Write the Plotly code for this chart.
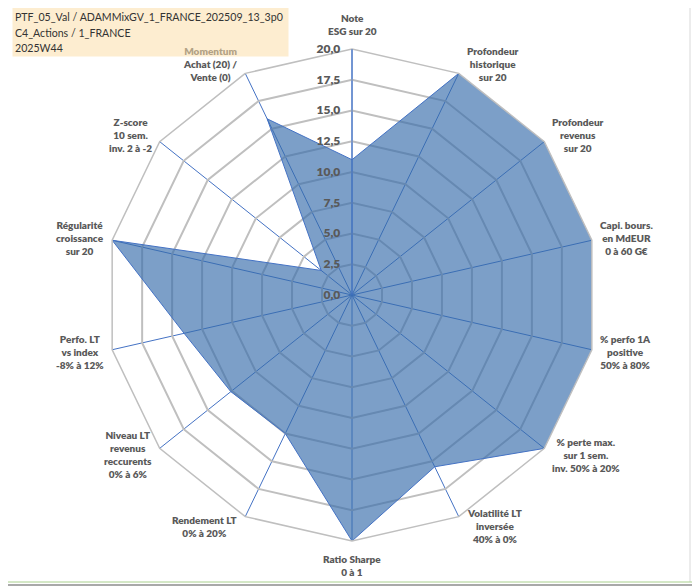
import math
import plotly.graph_objects as go

# ---- data ----
categories = [
    "Note<br>ESG sur 20",
    "Profondeur<br>historique<br>sur 20",
    "Profondeur<br>revenus<br>sur 20",
    "Capi. bours.<br>en MdEUR<br>0 à 60 G€",
    "% perfo 1A<br>positive<br>50% à 80%",
    "% perte max.<br>sur 1 sem.<br>inv. 50% à 20%",
    "Volatilité LT<br>inversée<br>40% à 0%",
    "Ratio Sharpe<br>0 à 1",
    "Rendement LT<br>0% à 20%",
    "Niveau LT<br>revenus<br>reccurents<br>0% à 6%",
    "Perfo. LT<br>vs index<br>-8% à 12%",
    "Régularité<br>croissance<br>sur 20",
    "Z-score<br>10 sem.<br>inv. 2 à -2",
    "Momentum<br>Achat (20) /<br>Vente (0)",
]
values = [11.0, 20.0, 20.0, 20.0, 20.0, 20.0, 15.5, 20.0, 12.5, 12.6, 14.0, 20.0, 3.2, 15.9]
radial_ticks = [0, 2.5, 5, 7.5, 10, 12.5, 15, 17.5, 20]
title_lines = ["PTF_05_Val / ADAMMixGV_1_FRANCE_202509_13_3p0", "C4_Actions / 1_FRANCE", "2025W44"]

# the page has an 8px body margin: work in window pixel coords and shift
OFF = 8
W, H = 700 - OFF, 586 - OFF
cx, cy, R = 352, 295, 246
RMAX = 20.0


def px(x):
    return (x - OFF) / W


def py(y):
    return 1 - (y - OFF) / H


radial_text = [f"{v:.1f}".replace(".", ",") for v in radial_ticks]

fig = go.Figure()
fig.add_trace(go.Scatterpolar(
    r=values + values[:1],
    theta=categories + categories[:1],
    mode="lines",
    fill="toself",
    fillcolor="rgba(53,107,170,0.65)",
    line=dict(color="#4472C4", width=1),
    hoverinfo="skip",
    showlegend=False,
))

fig.update_layout(
    width=W, height=H,
    margin=dict(l=0, r=0, t=0, b=0),
    paper_bgcolor="white",
    font=dict(family="Lato", color="#595959"),
    polar=dict(
        domain=dict(x=[px(cx - R), px(cx + R)], y=[py(cy + R), py(cy - R)]),
        bgcolor="rgba(0,0,0,0)",
        gridshape="linear",
        angularaxis=dict(
            rotation=90, direction="clockwise",
            showgrid=True, gridcolor="#4472C4", gridwidth=1,
            showline=True, linecolor="#BFBFBF", linewidth=1.5,
            ticks="", showticklabels=False,
        ),
        radialaxis=dict(
            range=[0, RMAX], tickvals=radial_ticks, ticktext=radial_text,
            angle=90, tickangle=90, side="counterclockwise",
            showgrid=True, gridcolor="#BFBFBF", gridwidth=1.5,
            showline=True, linecolor="#4472C4", linewidth=1,
            ticks="outside", ticklen=7, tickcolor="rgba(0,0,0,0)",
            tickfont=dict(family="Lato", size=12, color="#595959", weight=800),
        ),
    ),
)

# category labels placed next to the outer vertex of each spoke
n = len(categories)
for i, cat in enumerate(categories):
    th = math.radians(360.0 * i / n)
    s, c = math.sin(th), math.cos(th)
    vx, vy = cx + R * s, cy - R * c
    if abs(s) < 1e-6:
        x, xa = vx, "center"
        if c > 0:
            y, ya = vy - 10, "bottom"
        else:
            y, ya = vy + 10, "top"
    else:
        xa = "left" if s > 0 else "right"
        x = vx + (6 if s > 0 else -6)
        y, ya = vy - 10.5 * c, "middle"
    fig.add_annotation(xref="paper", yref="paper", x=px(x), y=py(y),
                       xanchor=xa, yanchor=ya, align="center", showarrow=False,
                       text=cat,
                       font=dict(family="Lato", size=10, color="#595959", weight=800))

# title box: semi-transparent background drawn over the chart and labels
fig.add_annotation(xref="paper", yref="paper", x=px(12), y=py(7),
                   xanchor="left", yanchor="top", showarrow=False,
                   width=273, height=46, borderpad=1,
                   bgcolor="rgba(252,222,170,0.55)", text=" ",
                   font=dict(size=10))
for k, line in enumerate(title_lines):
    fig.add_annotation(xref="paper", yref="paper", x=px(13), y=py(17.5 + 15.3 * k),
                       xanchor="left", yanchor="middle", align="left", showarrow=False,
                       text=line, font=dict(family="Lato", size=10.6, color="#333333"))

# frame (right and bottom edges)
fig.add_shape(type="line", xref="paper", yref="paper",
              x0=px(690), x1=px(690), y0=py(582), y1=py(8),
              line=dict(color="#D9D9D9", width=1), layer="above")
fig.add_shape(type="line", xref="paper", yref="paper",
              x0=px(8), x1=px(697), y0=py(582), y1=py(582),
              line=dict(color="#A9D08E", width=1), layer="above")
fig.add_shape(type="line", xref="paper", yref="paper",
              x0=px(697), x1=px(697), y0=py(585), y1=py(8),
              line=dict(color="#8C8C8C", width=1.5), layer="above")
fig.add_shape(type="line", xref="paper", yref="paper",
              x0=px(8), x1=px(697), y0=py(585), y1=py(585),
              line=dict(color="#8C8C8C", width=1.5), layer="above")

fig.write_html("out.html")
